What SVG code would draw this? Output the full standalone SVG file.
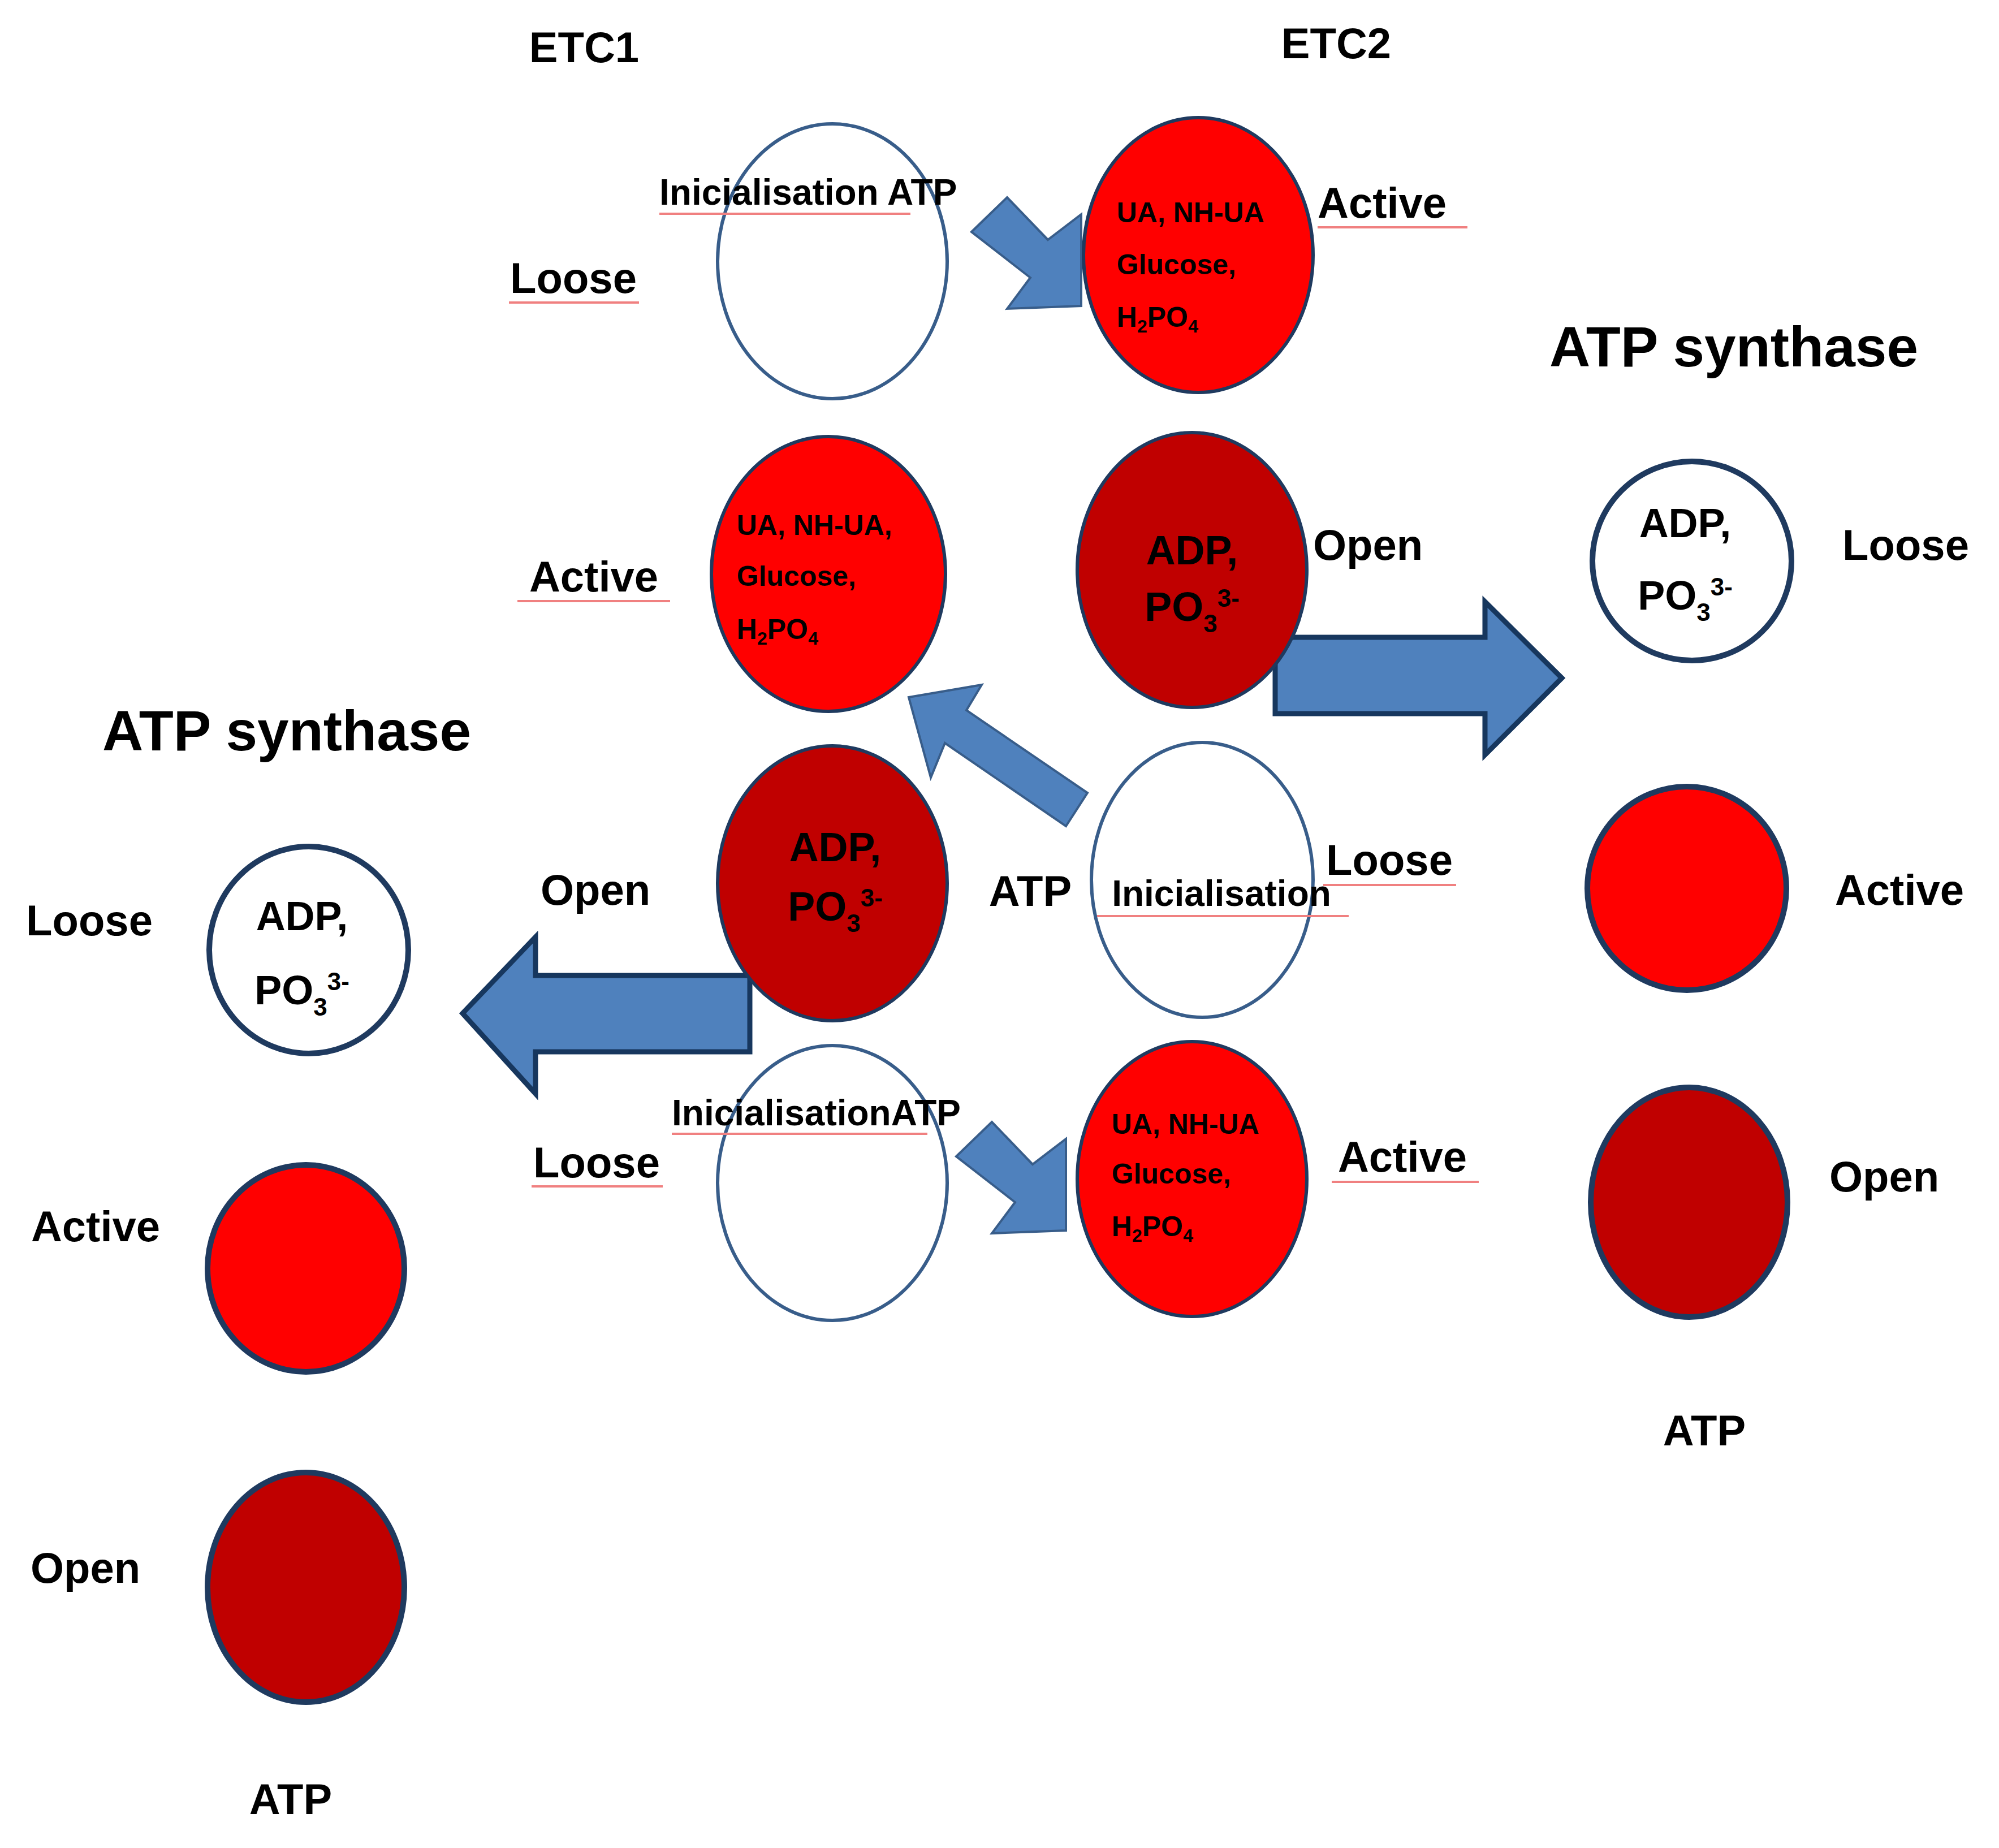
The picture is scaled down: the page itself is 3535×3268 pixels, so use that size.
<svg xmlns="http://www.w3.org/2000/svg" width="3535" height="3268" viewBox="0 0 3535 3268">
<style>
text{font-family:"Liberation Sans",Arial,sans-serif;font-weight:bold;fill:#000}
.l{font-size:76px}.s{font-size:64px}.in{font-size:50px}.a{font-size:72px}.t{font-size:100px}
.w{fill:#fff;stroke:#385D8A;stroke-width:6}
.r{fill:#FF0000;stroke:#1F3A5F;stroke-width:6}
.d{fill:#C00000;stroke:#1F3A5F;stroke-width:6}
.sw{fill:#fff;stroke:#1F3A5F;stroke-width:10}
.sr{fill:#FF0000;stroke:#1F3A5F;stroke-width:10}
.sd{fill:#C00000;stroke:#1F3A5F;stroke-width:10}
.ar{fill:#4F81BD;stroke:#385D8A;stroke-width:4}
.ab{fill:#4F81BD;stroke:#17375E;stroke-width:9}
.u{stroke:#F08080;stroke-width:4}
</style>
<g id="titles">
<text x="1033" y="110" class="l" text-anchor="middle">ETC1</text>
<text x="2363" y="103" class="l" text-anchor="middle">ETC2</text>
<text x="3066" y="648" class="t" text-anchor="middle">ATP synthase</text>
<text x="507" y="1327" class="t" text-anchor="middle">ATP synthase</text>
</g>
<g id="connectors">
<polygon class="ar" points="1718,410 1781,349 1853,424 1912,379 1912,541 1781,546 1822,491"/>
<polygon class="ar" points="1691,2045 1754,1984 1826,2059 1885,2014 1885,2176 1754,2181 1795,2126"/>
<polygon class="ar" points="1607,1233 1736,1211 1709,1256 1923,1402 1885,1461 1671,1314 1646,1375"/>
<polygon class="ab" points="2255,1127 2626,1127 2626,1064 2762,1199 2626,1335 2626,1262 2255,1262"/>
<polygon class="ab" points="1326,1725 947,1725 947,1657 818,1792 947,1934 947,1860 1326,1860"/>
</g>
<g id="etc1-loose-top"><ellipse class="w" cx="1472" cy="462" rx="203" ry="243"/>
<text x="1166" y="362" class="s">Inicialisation ATP</text><line class="u" x1="1166" y1="378" x2="1610" y2="378"/>
<text x="1014" y="518" class="l" text-anchor="middle">Loose</text><line class="u" x1="900" y1="535" x2="1130" y2="535"/></g>
<g id="etc2-active-top"><ellipse class="r" cx="2119" cy="451" rx="203" ry="243"/>
<text x="1975" y="393" class="in">UA, NH-UA</text><text x="1975" y="485" class="in">Glucose,</text>
<text x="1975" y="578" class="in">H<tspan font-size="32" dy="10">2</tspan><tspan dy="-10">PO</tspan><tspan font-size="32" dy="10">4</tspan></text>
<text x="2330" y="385" class="l">Active</text><line class="u" x1="2330" y1="402" x2="2595" y2="402"/></g>
<g id="etc1-active"><ellipse class="r" cx="1465" cy="1015" rx="207" ry="243"/>
<text x="1303" y="946" class="in">UA, NH-UA,</text><text x="1303" y="1036" class="in">Glucose,</text>
<text x="1303" y="1130" class="in">H<tspan font-size="32" dy="10">2</tspan><tspan dy="-10">PO</tspan><tspan font-size="32" dy="10">4</tspan></text>
<text x="1050" y="1046" class="l" text-anchor="middle">Active</text><line class="u" x1="915" y1="1063" x2="1185" y2="1063"/></g>
<g id="etc2-open"><ellipse class="d" cx="2108" cy="1008" rx="203" ry="243"/>
<text x="2108" y="998" class="a" text-anchor="middle">ADP,</text>
<text x="2108" y="1098" class="a" text-anchor="middle">PO<tspan font-size="44" dy="20">3</tspan><tspan font-size="44" dy="-45">3-</tspan></text>
<text x="2419" y="990" class="l" text-anchor="middle">Open</text></g>
<g id="etc1-open"><ellipse class="d" cx="1472" cy="1562" rx="203" ry="243"/>
<text x="1477" y="1523" class="a" text-anchor="middle">ADP,</text>
<text x="1477" y="1628" class="a" text-anchor="middle">PO<tspan font-size="44" dy="20">3</tspan><tspan font-size="44" dy="-45">3-</tspan></text>
<text x="1053" y="1600" class="l" text-anchor="middle">Open</text></g>
<g id="etc2-loose"><ellipse class="w" cx="2126" cy="1556" rx="196" ry="243"/>
<text x="1822" y="1602" class="l" text-anchor="middle">ATP</text>
<text x="2160" y="1602" class="s" text-anchor="middle">Inicialisation</text><line class="u" x1="1940" y1="1620" x2="2385" y2="1620"/>
<text x="2457" y="1547" class="l" text-anchor="middle">Loose</text><line class="u" x1="2340" y1="1565" x2="2575" y2="1565"/></g>
<g id="etc1-loose-bottom"><ellipse class="w" cx="1472" cy="2092" rx="203" ry="243"/>
<text x="1188" y="1990" class="s">InicialisationATP</text><line class="u" x1="1188" y1="2005" x2="1640" y2="2005"/>
<text x="1055" y="2082" class="l" text-anchor="middle">Loose</text><line class="u" x1="940" y1="2098" x2="1172" y2="2098"/></g>
<g id="etc2-active-bottom"><ellipse class="r" cx="2108" cy="2085" rx="203" ry="243"/>
<text x="1966" y="2005" class="in">UA, NH-UA</text><text x="1966" y="2093" class="in">Glucose,</text>
<text x="1966" y="2186" class="in">H<tspan font-size="32" dy="10">2</tspan><tspan dy="-10">PO</tspan><tspan font-size="32" dy="10">4</tspan></text>
<text x="2480" y="2072" class="l" text-anchor="middle">Active</text><line class="u" x1="2355" y1="2090" x2="2615" y2="2090"/></g>
<g id="left-loose"><ellipse class="sw" cx="546" cy="1680" rx="176" ry="183"/>
<text x="534" y="1645" class="a" text-anchor="middle">ADP,</text>
<text x="534" y="1776" class="a" text-anchor="middle">PO<tspan font-size="44" dy="20">3</tspan><tspan font-size="44" dy="-45">3-</tspan></text>
<text x="158" y="1654" class="l" text-anchor="middle">Loose</text></g>
<g id="left-active"><ellipse class="sr" cx="541" cy="2243" rx="174" ry="183"/>
<text x="169" y="2195" class="l" text-anchor="middle">Active</text></g>
<g id="left-open"><ellipse class="sd" cx="541" cy="2807" rx="174" ry="203"/>
<text x="151" y="2799" class="l" text-anchor="middle">Open</text>
<text x="514" y="3208" class="l" text-anchor="middle">ATP</text></g>
<g id="right-loose"><ellipse class="sw" cx="2992" cy="992" rx="176" ry="176"/>
<text x="2980" y="950" class="a" text-anchor="middle">ADP,</text>
<text x="2980" y="1078" class="a" text-anchor="middle">PO<tspan font-size="44" dy="20">3</tspan><tspan font-size="44" dy="-45">3-</tspan></text>
<text x="3370" y="990" class="l" text-anchor="middle">Loose</text></g>
<g id="right-active"><ellipse class="sr" cx="2983" cy="1571" rx="176" ry="180"/>
<text x="3359" y="1600" class="l" text-anchor="middle">Active</text></g>
<g id="right-open"><ellipse class="sd" cx="2987" cy="2126" rx="174" ry="203"/>
<text x="3332" y="2107" class="l" text-anchor="middle">Open</text>
<text x="3014" y="2556" class="l" text-anchor="middle">ATP</text></g>
</svg>
